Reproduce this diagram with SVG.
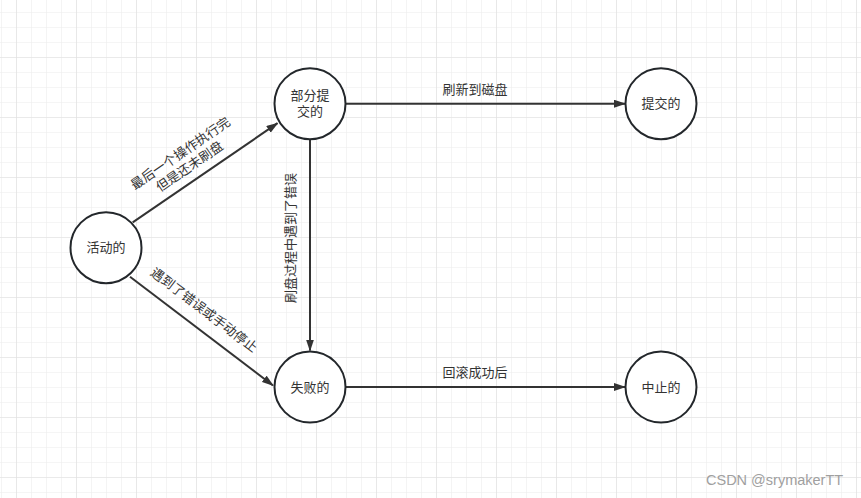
<svg xmlns="http://www.w3.org/2000/svg" width="861" height="498" viewBox="0 0 861 498">
<style>
.node circle{fill:#fff;stroke:#23272b;stroke-width:2}
.node text,.lbl{font-family:"Liberation Sans","Noto Sans CJK SC",sans-serif;font-size:13px;fill:#333;text-anchor:middle;dominant-baseline:central}
.edge{stroke:#333;stroke-width:2;fill:none;marker-end:url(#arr)}
</style>
<defs>
<pattern id="minor" x="1" y="12" width="15" height="15" patternUnits="userSpaceOnUse">
<path d="M0 0V15M0 0H15" stroke="#ececec" stroke-width="1.2" fill="none"/>
</pattern>
<pattern id="major" x="16" y="57" width="60" height="60" patternUnits="userSpaceOnUse">
<path d="M0 0V60M0 0H60" stroke="#e0e0e0" stroke-width="1.2" fill="none"/>
</pattern>
<marker id="arr" viewBox="0 0 12 8" refX="11" refY="4" markerWidth="12" markerHeight="8" markerUnits="userSpaceOnUse" orient="auto">
<path d="M0 0L12 4L0 8Z" fill="#333"/>
</marker>
</defs>
<rect width="861" height="498" fill="#fff"/>
<rect width="861" height="498" fill="url(#minor)"/>
<rect width="861" height="498" fill="url(#major)"/>
<g id="connectors">
<line class="edge" x1="132.7" y1="222.3" x2="277.5" y2="123.2"/>
<line class="edge" x1="130" y1="276.7" x2="273" y2="385.5"/>
<line class="edge" x1="346" y1="103.7" x2="625" y2="103.7"/>
<line class="edge" x1="310" y1="139.7" x2="310" y2="350.5"/>
<line class="edge" x1="346" y1="387" x2="625" y2="387"/>
<text class="lbl" x="475" y="89">刷新到磁盘</text>
<text class="lbl" x="475" y="372">回滚成功后</text>
<text class="lbl" transform="translate(290,238) rotate(-90)">刷盘过程中遇到了错误</text>
<g transform="translate(185,160) rotate(-34.4)">
<text class="lbl" x="0" y="-8">最后一个操作执行完</text>
<text class="lbl" x="0" y="8">但是还未刷盘</text>
</g>
<text class="lbl" transform="translate(204,310) rotate(37.3)">遇到了错误或手动停止</text>
</g>
<g id="active" class="node"><circle cx="106" cy="247.7" r="35.5"/><text x="106" y="247.7">活动的</text></g>
<g id="partial" class="node"><circle cx="310" cy="103.7" r="35.5"/><text x="310" y="95.7">部分提</text><text x="310" y="111.7">交的</text></g>
<g id="committed" class="node"><circle cx="661" cy="103.7" r="35.5"/><text x="661" y="103.7">提交的</text></g>
<g id="failed" class="node"><circle cx="310" cy="387" r="35.5"/><text x="310" y="387">失败的</text></g>
<g id="aborted" class="node"><circle cx="661" cy="387" r="35.5"/><text x="661" y="387">中止的</text></g>
<text x="706" y="485" font-family="'Liberation Sans',sans-serif" font-size="14.5" fill="#a0a0a0">CSDN @srymakerTT</text>
</svg>
